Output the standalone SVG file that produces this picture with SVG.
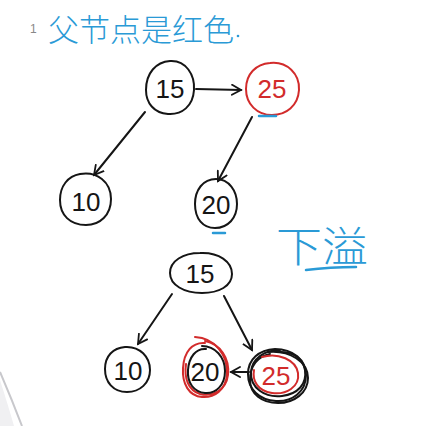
<svg xmlns="http://www.w3.org/2000/svg" width="426" height="426" viewBox="0 0 426 426">
<style>
.k{fill:none;stroke:#151515;stroke-width:2;stroke-linecap:round;stroke-linejoin:round}
.r{fill:none;stroke:#d22b2b;stroke-width:2;stroke-linecap:round}
.b{fill:none;stroke:#2a9ad6;stroke-width:2.5;stroke-linecap:round}
.t{font-family:"Liberation Sans",Arial,sans-serif;font-size:26px;text-anchor:middle;fill:#151515}
.tr{fill:#d22b2b}
.cn{font-family:"Noto Sans CJK SC",sans-serif;fill:#2a9ad6}
</style>
<defs>
<marker id="ah" viewBox="0 0 12 12" refX="10" refY="6" markerWidth="12" markerHeight="12" markerUnits="userSpaceOnUse" orient="auto">
<path d="M1,1 L10,6 L1,11" fill="none" stroke="#151515" stroke-width="1.8" stroke-linecap="round"/>
</marker>
</defs>
<rect width="426" height="426" fill="#ffffff"/>
<path d="M0,372 Q12,400 22,426" fill="none" stroke="#c8c8cc" stroke-width="2"/>
<path d="M0,380 Q8,405 14,426 L0,426 Z" fill="#f0f0f2"/>
<g id="title">
<text x="30" y="33" font-family="Liberation Sans,sans-serif" font-size="12" fill="#888">1</text>
<text x="48" y="41" class="cn" font-size="31" font-weight="300" textLength="186" lengthAdjust="spacingAndGlyphs">父节点是红色</text>
<circle cx="238" cy="36" r="1.3" fill="#2a9ad6"/>
</g>
<g id="connectors">
<line class="k" x1="196" y1="89" x2="241" y2="90" marker-end="url(#ah)"/>
<line class="k" x1="145" y1="112" x2="94" y2="175" marker-end="url(#ah)"/>
<line class="k" x1="252" y1="117" x2="218" y2="181" marker-end="url(#ah)"/>
<line class="k" x1="172" y1="294" x2="138" y2="344" marker-end="url(#ah)"/>
<line class="k" x1="224" y1="296" x2="252" y2="350" marker-end="url(#ah)"/>
<line class="k" x1="249" y1="372" x2="231" y2="372" marker-end="url(#ah)"/>
</g>
<g id="n15a">
<path class="k" d="M170,61 C186,60 195,75 194,90 C193,106 182,115 168,114 C154,113 146,103 146,90 C146,73 156,62 170,61 Z"/>
<text class="t" x="170" y="98">15</text>
</g>
<g id="n25a">
<path class="r" d="M270,63 C287,61 300,74 299,90 C298,106 286,115 272,115 C257,115 246,104 246,89 C246,74 256,64 270,63 Z"/>
<text class="t tr" x="272" y="98">25</text>
<line class="b" x1="259" y1="116" x2="276" y2="116"/>
</g>
<g id="n10a">
<path class="k" d="M80,174 C97,171 111,182 111,199 C111,215 100,225 86,225 C70,225 60,215 60,200 C60,186 68,176 80,174 Z"/>
<text class="t" x="86" y="211">10</text>
</g>
<g id="n20a">
<path class="k" d="M216,179 C229,179 237,191 237,204 C237,218 228,228 215,228 C203,228 195,219 195,204 C195,190 203,179 216,179 Z"/>
<text class="t" x="216" y="214">20</text>
<line class="b" x1="213" y1="233" x2="225" y2="233"/>
</g>
<g id="underflow">
<text x="276" y="262" class="cn" font-size="42" font-weight="300" textLength="92" lengthAdjust="spacingAndGlyphs">下溢</text>
<path class="b" d="M306,270 Q330,267 356,267"/>
</g>
<g id="n15b">
<path class="k" d="M200,253 C219,252 232,262 232,274 C232,286 219,293 202,293 C184,293 170,285 170,273 C170,261 183,253 200,253 Z"/>
<text class="t" x="200" y="283">15</text>
</g>
<g id="n10b">
<path class="k" d="M125,347 C140,346 150,357 150,370 C150,383 140,392 127,392 C113,392 105,382 105,369 C105,356 113,348 125,347 Z"/>
<text class="t" x="128" y="380">10</text>
</g>
<g id="n20b">
<path class="r" d="M195,337 C215,338 228,355 227,374 C226,390 214,398 202,397 C189,396 182,384 183,368 C184,352 192,342 205,343"/>
<path class="r" d="M205,341 C220,344 230,358 228,375 C226,391 212,397 200,394 C188,390 184,378 186,364"/>
<path class="k" d="M202,346 C215,346 225,357 225,371 C225,385 216,394 205,393 C194,392 187,383 188,370 C189,357 196,348 206,349"/>
<text class="t" x="205" y="381" font-size="22">20</text>
</g>
<g id="n25b">
<path class="k" d="M275,349 C293,349 306,360 306,375 C306,392 292,402 276,401 C259,400 248,389 248,374 C248,359 259,350 275,349 Z"/>
<path class="k" d="M268,352 C290,350 308,362 308,378 C308,393 294,403 278,403 C262,403 250,394 250,380 C250,366 258,356 270,354"/>
<path class="k" d="M280,350 C264,350 252,359 251,372 C250,388 265,398 282,396 C298,394 307,384 305,370 C303,358 292,351 278,352"/>
<path class="r" d="M262,357 C278,352 296,360 298,373 C300,387 286,395 272,393 C258,391 252,381 254,370"/>
<text class="t tr" x="276" y="385" font-size="22">25</text>
</g>
</svg>
